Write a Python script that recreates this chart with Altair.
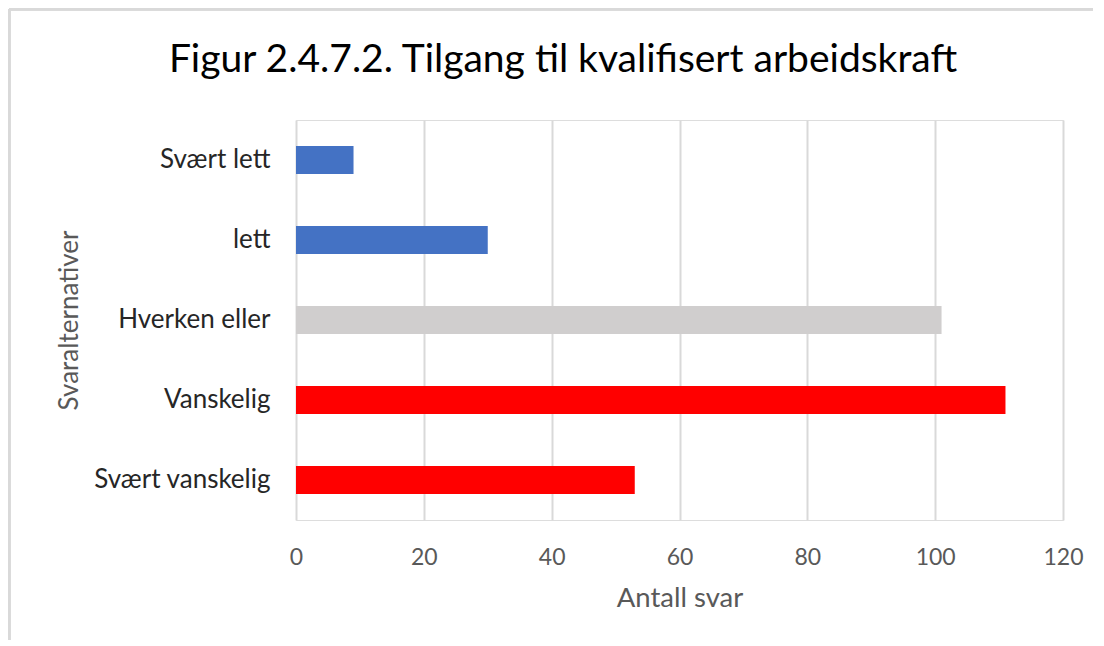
import altair as alt
import pandas as pd

categories = ["Svært lett", "lett", "Hverken eller", "Vanskelig", "Svært vanskelig"]
values = [9, 30, 101, 111, 53]
colors = ["#4472C4", "#4472C4", "#D0CECE", "#FF0000", "#FF0000"]
title_text = ["Figur 2.4.7.2. Tilgang til kvalifisert arbeidskraft"]

df = pd.DataFrame({"cat": categories, "val": values, "col": colors})
tdf = pd.DataFrame({"t": title_text})

FONT = "Lato"

bars = alt.Chart(df).mark_bar(size=28).encode(
    y=alt.Y("cat:N", sort=categories, title="Svaralternativer",
            axis=alt.Axis(labelFontSize=26, labelColor="#262626", labelPadding=26,
                          ticks=False, domain=False, grid=False,
                          titleFontSize=26, titleColor="#595959", titleFontWeight="normal",
                          titlePadding=14)),
    x=alt.X("val:Q", title="Antall svar",
            scale=alt.Scale(domain=[0, 120], nice=False),
            axis=alt.Axis(values=[0, 20, 40, 60, 80, 100, 120], labelFontSize=23,
                          labelColor="#595959", labelPadding=26, ticks=False, domain=False,
                          labelFlush=False,
                          grid=True, gridColor="#D9D9D9", gridWidth=2,
                          titleFontSize=27.5, titleColor="#595959", titleFontWeight="normal",
                          titlePadding=15)),
    color=alt.Color("col:N", scale=None),
)

title = alt.Chart(tdf).mark_text(fontSize=39, color="#000000", align="center",
                                 baseline="middle", font=FONT).encode(
    text="t:N", x=alt.value(267), y=alt.value(-60)
)

border_left = alt.Chart(df).mark_rule(color="#D9D9D9", strokeWidth=3, clip=False).encode(
    x=alt.value(-287), y=alt.value(-111), y2=alt.value(520)
)
border_top = alt.Chart(df).mark_rule(color="#D9D9D9", strokeWidth=3, clip=False).encode(
    x=alt.value(-287), x2=alt.value(800), y=alt.value(-111)
)

chart = alt.layer(bars, title, border_left, border_top).properties(
    width=767, height=400,
    autosize=alt.AutoSizeParams(type="none"),
    padding={"left": 288, "top": 112, "right": 30, "bottom": 120},
).configure_view(stroke=None).configure(font=FONT)

chart.save("out.html", embed_options={"renderer": "svg", "actions": False})
